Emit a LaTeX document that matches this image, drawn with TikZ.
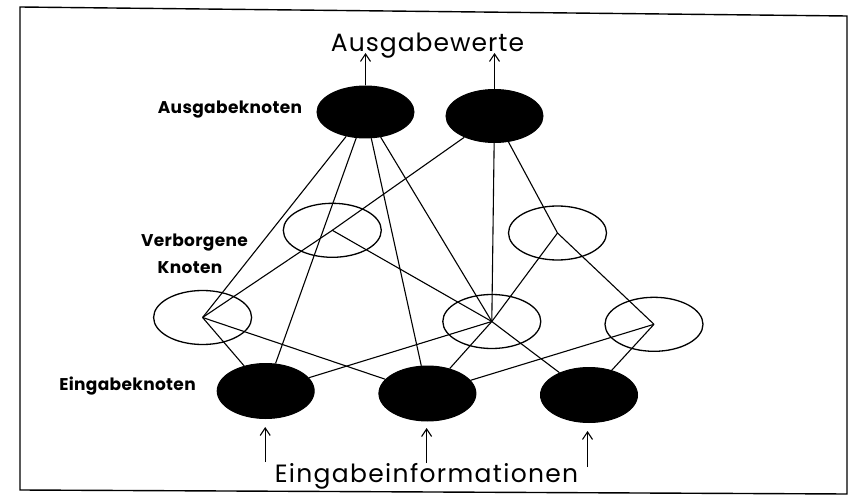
\documentclass[tikz,border=0pt]{standalone}
\usepackage{fontspec}
\setmainfont{Poppins}
\usetikzlibrary{shapes.geometric,arrows.meta}
\begin{document}
\begin{tikzpicture}[x=1pt,y=-1pt,
  blacknode/.style={ellipse,fill=black,draw=black,line width=1pt,inner sep=0pt,minimum width=97pt,minimum height=52pt},
  hidnode/.style={ellipse,draw=black,line width=1.3pt,inner sep=0pt,minimum width=98pt,minimum height=54pt},
  edge/.style={line width=1.1pt},
  arr/.style={line width=1.1pt,-{Straight Barb[length=7.5pt,width=10pt,line width=1.1pt]}},
  frame/.style={line width=1.4pt},
  lbl/.style={font=\fontsize{17}{19}\selectfont\bfseries\addfontfeature{LetterSpace=2},anchor=base,inner sep=0pt},
  big/.style={font=\fontsize{25}{28}\selectfont,anchor=base,inner sep=0pt}]
\useasboundingbox (0,0) rectangle (852,500);
\draw[frame] (20,7) -- (847,16) -- (847,494) -- (20,490) -- cycle;

% nodes
\node[blacknode] (O1) at (365.5,112) {};
\node[blacknode,minimum height=53pt] (O2) at (494.5,116) {};
\node[hidnode] (H1) at (332.3,230.3) {};
\node[hidnode] (H2) at (557.5,233) {};
\node[hidnode] (H3) at (202.6,317.5) {};
\node[hidnode] (H4) at (491.8,321.5) {};
\node[hidnode] (H5) at (654,324.3) {};
\node[blacknode,minimum height=55pt] (I1) at (265.7,391) {};
\node[blacknode,minimum height=55pt] (I2) at (427.4,393.5) {};
\node[blacknode,minimum height=55pt] (I3) at (589,395) {};

% connections
\draw[edge] (O1) -- (H3.center);
\draw[edge] (O1) -- (I1);
\draw[edge] (O1) -- (I2);
\draw[edge] (O1) -- (H4.center);
\draw[edge] (O2) -- (H1.center);
\draw[edge] (O2) -- (H4.center);
\draw[edge] (O2) -- (H2.center);
\draw[edge] (H1.center) -- (H3.center);
\draw[edge] (H1.center) -- (H4.center);
\draw[edge] (H2.center) -- (H4.center);
\draw[edge] (H2.center) -- (H5.center);
\draw[edge] (H3.center) -- (I1);
\draw[edge] (H3.center) -- (I2);
\draw[edge] (H4.center) -- (I1);
\draw[edge] (H4.center) -- (I2);
\draw[edge] (H4.center) -- (I3);
\draw[edge] (H5.center) -- (I2);
\draw[edge] (H5.center) -- (I3);

% texts
\node[big] (tout) at (427.5,51.5) {\addfontfeature{LetterSpace=4}Ausgabewerte};
\node[big] (tin) at (426.5,482.5) {\addfontfeature{LetterSpace=5.3}Eingabeinformationen};
\node[lbl] (lout) at (230,113.5) {Ausgabeknoten};
\node[lbl] (lhid1) at (194.5,247) {Verborgene};
\node[lbl] (lhid2) at (190,273) {Knoten};
\node[lbl] (lin) at (127.5,390) {Eingabeknoten};

% output arrows
\coordinate (ao1) at (365.5,53);
\coordinate (ao2) at (494.5,53);
\draw[arr] (O1.north) -- (ao1);
\draw[arr] (O2.north) -- (ao2);

% input arrows
\coordinate (s1) at (265.2,462);
\coordinate (e1) at (265.2,427);
\coordinate (s2) at (426.6,463);
\coordinate (e2) at (426.6,428);
\coordinate (s3) at (587.5,467);
\coordinate (e3) at (587.5,431);
\draw[arr] (s1) -- (e1);
\draw[arr] (s2) -- (e2);
\draw[arr] (s3) -- (e3);
\end{tikzpicture}
\end{document}
